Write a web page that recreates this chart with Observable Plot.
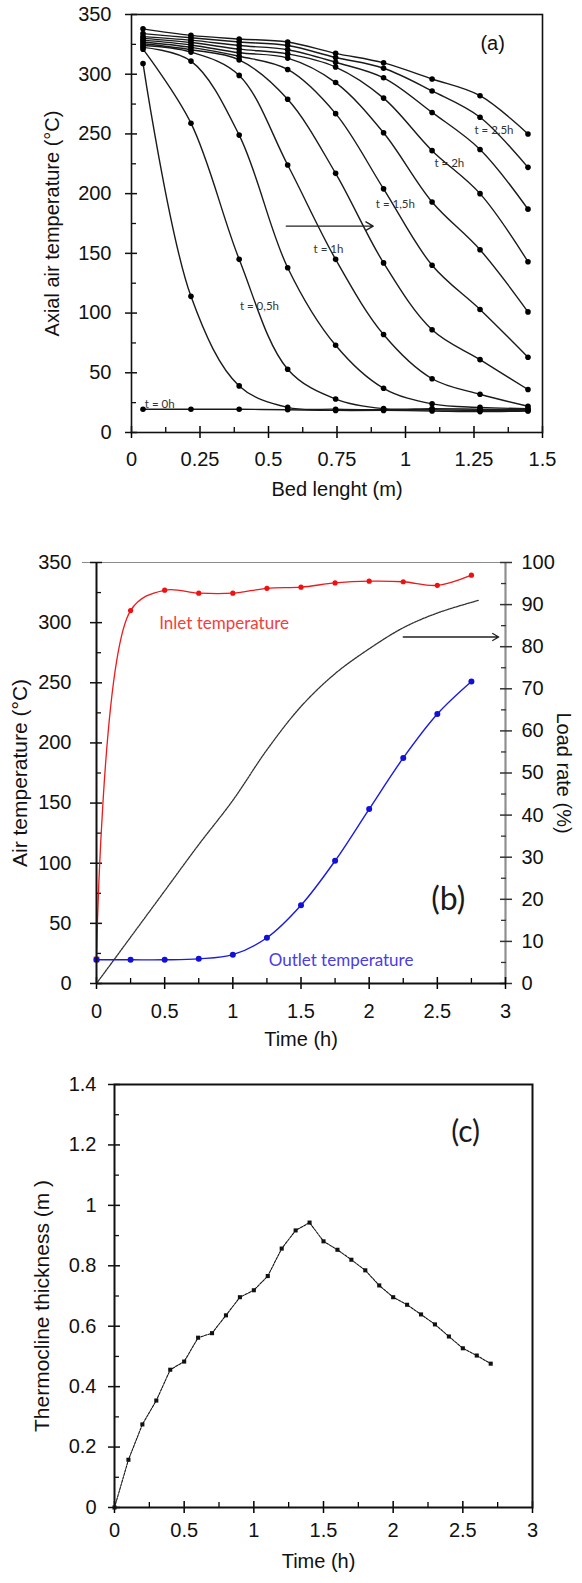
<!DOCTYPE html>
<html><head><meta charset="utf-8">
<script src="https://cdn.jsdelivr.net/npm/d3@7"></script>
<script src="https://cdn.jsdelivr.net/npm/@observablehq/plot@0.6"></script>
<style>
body{margin:0;background:#fff;}
#chart{width:582px;}
#chart svg{display:block;}
</style></head><body><div id="chart"></div>
<script>
const FONT = "'Liberation Sans', Arial, sans-serif";
const LABFONT = "Lato, 'Open Sans', sans-serif";

// ---------- Panel (a): axial air temperature profiles ----------
const bedLength = [0.042, 0.217, 0.393, 0.57, 0.745, 0.92, 1.097, 1.272, 1.447];
const profileTimes = ["0h","0.25h","0.5h","0.75h","1h","1.25h","1.5h","1.75h","2h","2.25h","2.5h","2.75h"];
const T_0h    = [19.5, 19.5, 19.5, 19, 18.5, 18.5, 18, 17.5, 18];
const T_025h  = [309, 114, 39, 21, 19.5, 19, 19, 18.5, 18.5];
const T_05h   = [321, 259, 145, 53, 28, 20, 20, 19.5, 19];
const T_075h  = [322.5, 311, 249, 138, 73, 37, 24, 21, 20];
const T_1h    = [324, 318.5, 299, 224, 145, 82, 45, 32, 22];
const T_125h  = [325.5, 320.5, 312, 279, 217, 142, 86, 61, 36];
const T_15h   = [327, 322.5, 315, 304, 267, 204, 140, 103, 63];
const T_175h  = [328.5, 324.5, 318, 313.5, 293, 251, 193, 153, 101];
const T_2h    = [330, 326.5, 321, 317, 306, 280, 236, 200, 143];
const T_225h  = [331.5, 328.5, 324, 320.5, 310, 297, 268, 237, 187];
const T_25h   = [334, 330.5, 327, 324, 314, 305, 286, 264, 222];
const T_275h  = [338, 332.5, 329.5, 327, 317.5, 309.5, 296, 282, 250];
const profiles = [T_0h, T_025h, T_05h, T_075h, T_1h, T_125h, T_15h, T_175h, T_2h, T_225h, T_25h, T_275h];

const tempTicksA = [0, 50, 100, 150, 200, 250, 300, 350];
const tempMinorA = [25, 75, 125, 175, 225, 275, 325];
const bedTicks = [0, 0.25, 0.5, 0.75, 1, 1.25, 1.5];
const bedMinor = [0.125, 0.375, 0.625, 0.875, 1.125, 1.375];

const labelText_a = ["t = 2,5h", "t = 2h", "t = 1,5h", "t = 1h", "t = 0,5h", "t = 0h"];
const labelX_a = [1.323, 1.16, 0.963, 0.719, 0.467, 0.103];
const labelY_a = [253, 225, 191, 153, 106, 24];
const arrowA = [{x1: 0.565, x2: 0.882, y1: 172.8, y2: 172.8}];
const tagA = [{x: 1.318, y: 326, text: "(a)"}];

// ---------- Panel (b): inlet / outlet temperature and load rate ----------
const timeB = [0, 0.25, 0.5, 0.75, 1, 1.25, 1.5, 1.75, 2, 2.25, 2.5, 2.75];
const inletTemp = [20, 310, 327, 324.5, 324.5, 328.5, 329.5, 333, 334.5, 334, 331, 339.5];
const outletTemp = [19.7, 19.7, 19.7, 20.5, 24, 38, 65, 102, 145, 187.5, 224, 251];
const loadTime = [0, 0.25, 0.5, 0.75, 1, 1.25, 1.5, 1.75, 2, 2.25, 2.5, 2.8];
const loadRate = [0, 11, 22, 33, 43.5, 55.5, 65.8, 73.6, 79.5, 84.5, 88, 91];
const tempTicksB = [0, 50, 100, 150, 200, 250, 300, 350];
const tempMinorB = [25, 75, 125, 175, 225, 275, 325];
const timeTicksB = [0, 0.5, 1, 1.5, 2, 2.5, 3];
const timeMinorB = [0.25, 0.75, 1.25, 1.75, 2.25, 2.75];
const loadTicks = [0, 10, 20, 30, 40, 50, 60, 70, 80, 90, 100];
const loadMinor = [5, 15, 25, 35, 45, 55, 65, 75, 85, 95];
const loadToTemp = 350 / 100;
const arrowB = [{x1: 2.25, x2: 2.95, y1: 82.3, y2: 82.3}];

// ---------- Panel (c): thermocline thickness ----------
const timeC = [0, 0.1, 0.2, 0.3, 0.4, 0.5, 0.6, 0.7, 0.8, 0.9, 1.0, 1.1, 1.2, 1.3, 1.4, 1.5, 1.6, 1.7, 1.8, 1.9, 2.0, 2.1, 2.2, 2.3, 2.4, 2.5, 2.6, 2.7];
const thickness = [0, 0.158, 0.275, 0.354, 0.456, 0.483, 0.562, 0.577, 0.636, 0.696, 0.719, 0.766, 0.857, 0.917, 0.943, 0.881, 0.853, 0.82, 0.785, 0.735, 0.696, 0.671, 0.639, 0.606, 0.566, 0.527, 0.503, 0.476];
const thickTicks = [0, 0.2, 0.4, 0.6, 0.8, 1, 1.2, 1.4];
const thickMinor = [0.1, 0.3, 0.5, 0.7, 0.9, 1.1, 1.3];
const timeTicksC = [0, 0.5, 1, 1.5, 2, 2.5, 3];
const timeMinorC = [0.25, 0.75, 1.25, 1.75, 2.25, 2.75];

// ---------- helpers ----------
const fmt = d => String(d);
function yAxes(ticks, minor, {pad, color = "#111", anchor = "left", format = fmt}) {
  const s = anchor === "left" ? 1 : -1;
  return [
    Plot.axisY({anchor, ticks, tickFormat: format, tickSize: 12, dx: 6 * s, tickPadding: pad, fontSize: 20, fontFamily: FONT, stroke: color, strokeWidth: 1.5, fill: "#111", label: null}),
    Plot.axisY({anchor, ticks: minor, tickFormat: () => "", tickSize: 5, dx: 5 * s, stroke: color, strokeWidth: 1.3, label: null})
  ];
}
function xAxes(ticks, minor, {pad}) {
  return [
    Plot.axisX({ticks, tickFormat: fmt, tickSize: 12, dy: -6, tickPadding: pad, fontSize: 20, fontFamily: FONT, strokeWidth: 1.5, fill: "#111", label: null}),
    Plot.axisX({ticks: minor, tickFormat: () => "", tickSize: 5, dy: -5, strokeWidth: 1.3, label: null})
  ];
}
function title(text, opts) {
  return Plot.text([text], {text: d => d, fontSize: 20, fontFamily: FONT, fill: "#111", textAnchor: "middle", frameAnchor: "middle", ...opts});
}

// ---------- Panel (a) ----------
const recsA = profiles.flatMap((vals, i) => vals.map((v, j) => ({t: profileTimes[i], x: bedLength[j], y: v})));
const labelsA = labelText_a.map((text, i) => ({text, x: labelX_a[i], y: labelY_a[i]}));

const plotA = Plot.plot({
  width: 582, height: 520,
  marginLeft: 131, marginRight: 40, marginTop: 14, marginBottom: 88,
  x: {domain: [0, 1.5]},
  y: {domain: [0, 350]},
  style: {fontFamily: FONT, background: "white"},
  marks: [
    ...yAxes(tempTicksA, tempMinorA, {pad: 14}),
    ...xAxes(bedTicks, bedMinor, {pad: 13}),
    Plot.line(recsA, {x: "x", y: "y", z: "t", curve: "catmull-rom", stroke: "#1a1a1a", strokeWidth: 1.4}),
    Plot.dot(recsA, {x: "x", y: "y", r: 2.8, fill: "#000"}),
    Plot.arrow(arrowA, {x1: "x1", y1: "y1", x2: "x2", y2: "y2", stroke: "#222", strokeWidth: 1.4, headLength: 9}),
    Plot.text(labelsA, {x: "x", y: "y", text: "text", fontSize: 11.5, fontFamily: LABFONT, fill: "#333"}),
    Plot.text(tagA, {x: "x", y: "y", text: "text", fontSize: 20, fontFamily: FONT, fill: "#111"}),
    Plot.frame({stroke: "#111", strokeWidth: 1.6}),
    title("Axial air temperature (°C)", {rotate: -90, dx: -284.5, letterSpacing: 0.5}),
    title("Bed lenght (m)", {frameAnchor: "bottom", dy: 63})
  ]
});

// ---------- Panel (b) ----------
const inletRecs = timeB.map((t, i) => ({t, v: inletTemp[i]}));
const outletRecs = timeB.map((t, i) => ({t, v: outletTemp[i]}));
const loadRecs = loadTime.map((t, i) => ({t, v: loadRate[i] * loadToTemp}));
const arrowBRecs = arrowB.map(d => ({...d, y1: d.y1 * loadToTemp, y2: d.y2 * loadToTemp}));

const plotB = Plot.plot({
  width: 582, height: 540,
  marginLeft: 96, marginRight: 77, marginTop: 42, marginBottom: 77,
  x: {domain: [0, 3]},
  y: {domain: [0, 350]},
  style: {fontFamily: FONT, background: "white"},
  marks: [
    Plot.ruleY([350], {stroke: "#8a8a8a", strokeWidth: 1.2, insetLeft: -14}),
    Plot.ruleX([3], {stroke: "#8f8f8f", strokeWidth: 2.2}),
    ...yAxes(tempTicksB, tempMinorB, {pad: 19}),
    ...yAxes(loadTicks.map(v => v * loadToTemp), loadMinor.map(v => v * loadToTemp), {pad: 10, anchor: "right", color: "#333", format: v => String(Math.round(v / loadToTemp))}),
    ...xAxes(timeTicksB, timeMinorB, {pad: 14}),
    Plot.line(loadRecs, {x: "t", y: "v", stroke: "#333", strokeWidth: 1.3, strokeDasharray: "2,1", curve: "catmull-rom"}),
    Plot.line(inletRecs, {x: "t", y: "v", stroke: "#f01818", strokeWidth: 1.3, curve: "catmull-rom"}),
    Plot.dot(inletRecs.slice(1), {x: "t", y: "v", r: 2.6, fill: "#f01010"}),
    Plot.dot(inletRecs.slice(0, 1), {x: "t", y: "v", r: 3.2, symbol: "square", fill: "#f01010"}),
    Plot.line(outletRecs, {x: "t", y: "v", stroke: "#1a1ae0", strokeWidth: 1.4, curve: "catmull-rom"}),
    Plot.dot(outletRecs, {x: "t", y: "v", r: 3, fill: "#1010d8"}),
    Plot.ruleX([0], {stroke: "#111", strokeWidth: 2}),
    Plot.ruleY([0], {stroke: "#111", strokeWidth: 2}),
    Plot.arrow(arrowBRecs, {x1: "x1", y1: "y1", x2: "x2", y2: "y2", stroke: "#222", strokeWidth: 1.3, headLength: 8}),
    Plot.text([{t: 0.46, v: 299, s: "Inlet temperature"}], {x: "t", y: "v", text: "s", textAnchor: "start", fontSize: 17, fontFamily: LABFONT, fill: "#f2403c", letterSpacing: 0.5}),
    Plot.text([{t: 1.263, v: 19, s: "Outlet temperature"}], {x: "t", y: "v", text: "s", textAnchor: "start", fontSize: 17, fontFamily: LABFONT, fill: "#4b3be6", letterSpacing: 0.5}),
    Plot.text([{t: 2.58, v: 70, s: "(b)"}], {x: "t", y: "v", text: "s", fontSize: 32, fontFamily: LABFONT, fill: "#1a1a1a"}),
    title("Air temperature (°C)", {rotate: -90, dx: -280.5, fontSize: 21, letterSpacing: 3}),
    title("Load rate (%)", {rotate: 90, dx: 262, fontSize: 20, letterSpacing: 4.5}),
    title("Time (h)", {frameAnchor: "bottom", dy: 62})
  ]
});

// ---------- Panel (c) ----------
const recsC = timeC.map((t, i) => ({t, v: thickness[i]}));
const plotC = Plot.plot({
  width: 582, height: 523,
  marginLeft: 114, marginRight: 50, marginTop: 24, marginBottom: 76,
  x: {domain: [0, 3]},
  y: {domain: [0, 1.4]},
  style: {fontFamily: FONT, background: "white"},
  marks: [
    ...yAxes(thickTicks, thickMinor, {pad: 12}),
    ...xAxes(timeTicksC, timeMinorC, {pad: 9}),
    Plot.line(recsC, {x: "t", y: "v", stroke: "#111", strokeWidth: 1.1, strokeDasharray: "2.5,1.2"}),
    Plot.dot(recsC, {x: "t", y: "v", r: 2.3, symbol: "square", fill: "#111"}),
    Plot.text([{t: 2.52, v: 1.243, s: "(c)"}], {x: "t", y: "v", text: "s", fontSize: 30, fontFamily: LABFONT, fill: "#1a1a1a"}),
    Plot.frame({stroke: "#111", strokeWidth: 2}),
    title("Thermocline thickness (m )", {rotate: -90, dx: -281, dy: 10, fontSize: 21, letterSpacing: 2.5}),
    title("Time (h)", {frameAnchor: "bottom", dy: 60, dx: -5})
  ]
});

const root = document.getElementById("chart");
root.append(plotA, plotB, plotC);
</script>
</body></html>
